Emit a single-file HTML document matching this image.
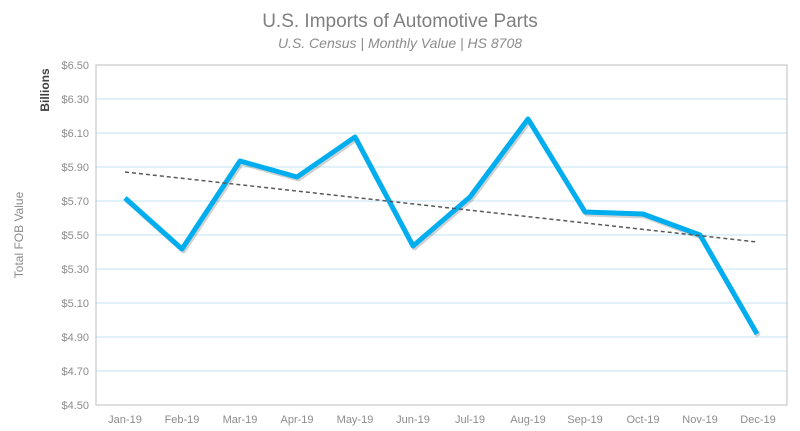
<!DOCTYPE html>
<html><head><meta charset="utf-8"><style>body{margin:0;background:#fff}svg{display:block}</style></head><body>
<svg width="800" height="431" xmlns="http://www.w3.org/2000/svg" font-family="Liberation Sans, sans-serif">
<text x="400" y="27" text-anchor="middle" font-size="19" fill="#7f7f7f">U.S. Imports of Automotive Parts</text>
<text x="400" y="48" text-anchor="middle" font-size="14" font-style="italic" fill="#8c8c8c">U.S. Census | Monthly Value | HS 8708</text>
<g stroke="#bfe6f5" stroke-width="1">
<line x1="96" x2="787" y1="99" y2="99"/><line x1="96" x2="787" y1="133" y2="133"/><line x1="96" x2="787" y1="167" y2="167"/><line x1="96" x2="787" y1="201" y2="201"/><line x1="96" x2="787" y1="235" y2="235"/><line x1="96" x2="787" y1="269" y2="269"/><line x1="96" x2="787" y1="303" y2="303"/><line x1="96" x2="787" y1="337" y2="337"/><line x1="96" x2="787" y1="371" y2="371"/>
</g>
<rect x="96" y="65" width="691" height="340" fill="none" stroke="#bfbfbf" stroke-width="1"/>
<g font-size="11" fill="#8c8c8c" text-anchor="end">
<text x="89" y="69">$6.50</text><text x="89" y="103">$6.30</text><text x="89" y="137">$6.10</text><text x="89" y="171">$5.90</text><text x="89" y="205">$5.70</text><text x="89" y="239">$5.50</text><text x="89" y="273">$5.30</text><text x="89" y="307">$5.10</text><text x="89" y="341">$4.90</text><text x="89" y="375">$4.70</text><text x="89" y="409">$4.50</text>
</g>
<text transform="translate(49,90) rotate(-90)" text-anchor="middle" font-size="12" font-weight="bold" fill="#404040">Billions</text>
<text transform="translate(23,235) rotate(-90)" text-anchor="middle" font-size="12" fill="#8c8c8c">Total FOB Value</text>
<g font-size="11" fill="#8c8c8c" text-anchor="middle">
<text x="125" y="423">Jan-19</text><text x="182" y="423">Feb-19</text><text x="240" y="423">Mar-19</text><text x="297" y="423">Apr-19</text><text x="355" y="423">May-19</text><text x="413" y="423">Jun-19</text><text x="470" y="423">Jul-19</text><text x="528" y="423">Aug-19</text><text x="585" y="423">Sep-19</text><text x="643" y="423">Oct-19</text><text x="700" y="423">Nov-19</text><text x="758" y="423">Dec-19</text>
</g>
<polyline fill="none" stroke="#000" stroke-opacity="0.18" stroke-width="5" stroke-linejoin="round" transform="translate(1.5,2)" points="125,198 182,249 240,161 297,177 355,137 413,246 470,197 528,119 585,212 643,214 700,235 757,334"/>
<polyline fill="none" stroke="#00aeef" stroke-width="5" stroke-linejoin="round" points="125,198 182,249 240,161 297,177 355,137 413,246 470,197 528,119 585,212 643,214 700,235 757,334"/>
<line x1="125" y1="172" x2="757" y2="242" stroke="#595959" stroke-width="1.5" stroke-dasharray="4,3"/>
</svg>
</body></html>
